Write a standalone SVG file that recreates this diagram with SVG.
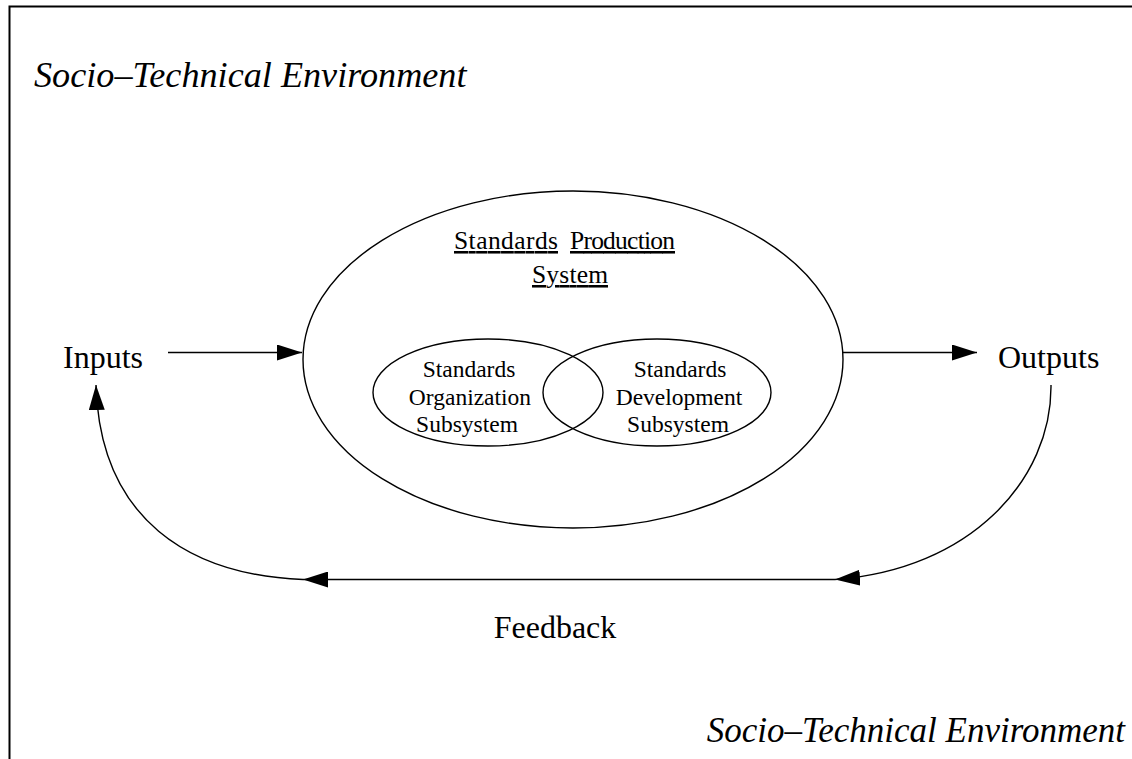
<svg xmlns="http://www.w3.org/2000/svg" width="1132" height="759" viewBox="0 0 1132 759">
  <style>
    .line { fill: none; stroke: #000; stroke-width: 1.4; }
    .frame { fill: none; stroke: #000; stroke-width: 2; }
    .shape { fill: none; stroke: #000; stroke-width: 1.4; }
    .label { font-family: "Liberation Serif", "Times New Roman", serif; fill: #000; }
    .env { font-style: italic; }
    .big { font-size: 32px; }
    .mid { font-size: 25.5px; text-decoration: underline; }
    .small { font-size: 23.5px; text-anchor: middle; }
  </style>
  <defs>
    <marker id="arrow" viewBox="0 0 25 16" refX="25" refY="8" markerWidth="25" markerHeight="16" markerUnits="userSpaceOnUse" orient="auto">
      <path d="M0,0 L25,8 L0,16 Z" fill="#000"/>
    </marker>
  </defs>
  <rect width="1132" height="759" fill="#fff"/>

  <!-- page frame: top and left rules only -->
  <path class="frame" d="M9.5,759 V6.5 H1132"/>

  <text class="label env" x="34" y="87" font-size="36.2">Socio–Technical Environment</text>
  <text class="label env" x="1125" y="742" font-size="35" text-anchor="end">Socio–Technical Environment</text>

  <g id="production-system">
    <ellipse class="shape" cx="573" cy="359.5" rx="270" ry="168.5"/>
    <text class="label mid" x="454" y="249" textLength="104">Standards</text>
    <text class="label mid" x="570" y="249" textLength="105">Production</text>
    <text class="label mid" x="532" y="283" textLength="76">System</text>
  </g>

  <g id="organization-subsystem">
    <ellipse class="shape" cx="488" cy="392.5" rx="115" ry="53.5"/>
    <text class="label small" x="469" y="377">Standards</text>
    <text class="label small" x="470" y="405">Organization</text>
    <text class="label small" x="467" y="432">Subsystem</text>
  </g>

  <g id="development-subsystem">
    <ellipse class="shape" cx="657" cy="392.5" rx="114" ry="53.5"/>
    <text class="label small" x="680" y="377">Standards</text>
    <text class="label small" x="679" y="405">Development</text>
    <text class="label small" x="678" y="432">Subsystem</text>
  </g>

  <g id="inputs">
    <text class="label big" x="63" y="368">Inputs</text>
  </g>

  <g id="outputs">
    <text class="label big" x="998" y="368">Outputs</text>
  </g>

  <g id="feedback">
    <text class="label big" x="555" y="638" text-anchor="middle">Feedback</text>
  </g>

  <g id="connectors">
    <path class="line" d="M168,352.5 H302" marker-end="url(#arrow)"/>
    <path class="line" d="M843,352.5 H977" marker-end="url(#arrow)"/>
    <path class="line" d="M1051,385 C1052,480 970,570 835,579.5" marker-end="url(#arrow)"/>
    <path class="line" d="M835,579.5 H303" marker-end="url(#arrow)"/>
    <path class="line" d="M303,579.5 C190,575 100,520 96,385" marker-end="url(#arrow)"/>
  </g>
</svg>
